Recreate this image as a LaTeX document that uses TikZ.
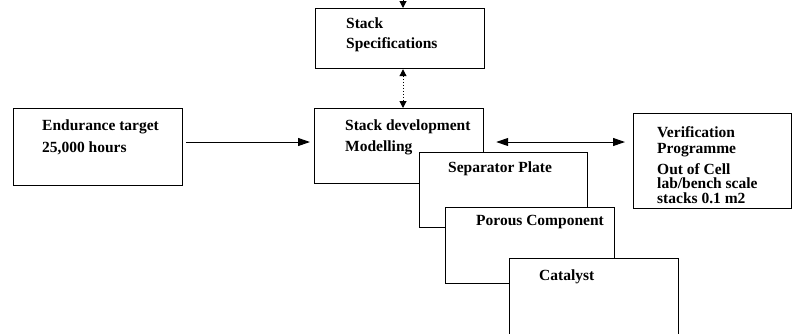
\documentclass[tikz,border=0pt]{standalone}
\usepackage{fontspec}
\setmainfont{Liberation Serif}
\usetikzlibrary{arrows.meta}
\begin{document}
\begin{tikzpicture}[x=1pt,y=-1pt,
  box/.style={draw=black,line width=1.2pt,fill=white},
  txt/.style={anchor=base west,inner sep=0pt,font=\fontsize{15.5}{18}\selectfont\bfseries},
  arr/.style={line width=1pt,-{Triangle[length=12pt,width=8pt]}},
  darr/.style={line width=1pt,{Triangle[length=12pt,width=8pt]}-{Triangle[length=12pt,width=8pt]}},
  dotarr/.style={line width=1pt,dotted,{Triangle[length=7pt,width=7pt]}-{Triangle[length=7pt,width=7pt]}}]
\useasboundingbox (0,0) rectangle (792,333);
\clip (0,0) rectangle (792,333);
% boxes
\node[box,minimum width=169pt,minimum height=60pt,anchor=north west] (spec) at (315,8) {};
\node[box,minimum width=169pt,minimum height=75pt,anchor=north west] (dev) at (314,108) {};
\node[box,minimum width=169pt,minimum height=77pt,anchor=north west] (endu) at (13,108) {};
\node[box,minimum width=158pt,minimum height=95pt,anchor=north west] (ver) at (633,113) {};
\node[box,minimum width=168pt,minimum height=75pt,anchor=north west] (sep) at (419,152) {};
\node[box,minimum width=169pt,minimum height=76pt,anchor=north west] (por) at (445,207) {};
\node[box,minimum width=169pt,minimum height=90pt,anchor=north west] (cat) at (509,258) {};
% texts
\node[txt] (t1) at (346,28) {Stack};
\node[txt] (t2) at (346,48) {Specifications};
\node[txt] (t3) at (345,130) {Stack development};
\node[txt] (t4) at (345,151) {Modelling};
\node[txt] (t5) at (42,130) {Endurance target};
\node[txt] (t6) at (42,152) {25,000 hours};
\node[txt] (t7) at (448,172) {Separator Plate};
\node[txt] (t8) at (476,225) {Porous Component};
\node[txt] (t9) at (539,280) {Catalyst};
\node[txt] (v1) at (657,137) {Verification};
\node[txt] (v2) at (657,153) {Programme};
\node[txt] (v3) at (657,174) {Out of Cell};
\node[txt] (v4) at (657,188) {lab/bench scale};
\node[txt] (v5) at (657,203) {stacks 0.1 m2};
% connectors
\coordinate (topin) at (403,-12);
\draw[line width=1pt,-{Triangle[length=7pt,width=7pt]}] (topin) -- (spec.north -| topin);
\draw[dotarr] (spec.south -| 403,0) -- (dev.north -| 403,0);
\draw[arr,shorten <=3pt,shorten >=4pt] (endu.east |- 0,142) -- (dev.west |- 0,142);
\draw[darr,shorten <=12pt,shorten >=8pt] (dev.east |- 0,142) -- (ver.west |- 0,142);
\end{tikzpicture}
\end{document}
